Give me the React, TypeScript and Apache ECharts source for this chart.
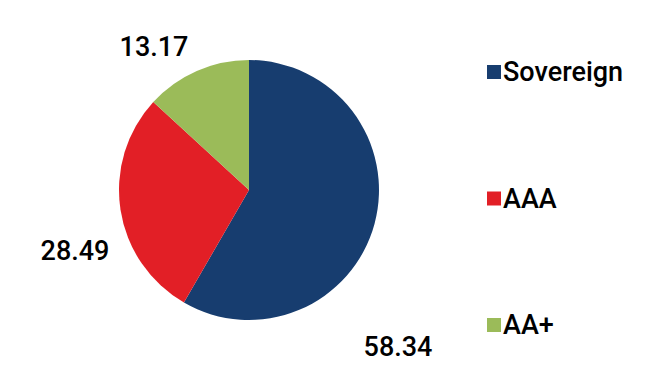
import React, { useEffect, useRef } from "react";
import * as echarts from "echarts";

const categories = ["Sovereign", "AAA", "AA+"];
const values = [58.34, 28.49, 13.17];
const colors = ["#173D6F", "#E21F26", "#9BBB59"];
const labelPositions: [number, number][] = [
  [398, 347],
  [75, 251],
  [154, 47],
];

export default function App() {
  const ref = useRef<HTMLDivElement>(null);
  useEffect(() => {
    if (!ref.current) return;
    const chart = echarts.init(ref.current, undefined, { renderer: "svg" });
    chart.setOption({
      animation: false,
      backgroundColor: "#ffffff",
      legend: {
        orient: "vertical",
        left: 482,
        top: 53.5,
        icon: "rect",
        itemWidth: 14,
        itemHeight: 14,
        itemGap: 99.5,
        textStyle: { fontFamily: "Roboto", fontSize: 27, fontWeight: 500, color: "#000000", padding: [0, 0, 0, -3] },
        data: categories,
      },
      series: [
        {
          type: "pie",
          center: [249, 190],
          radius: 130,
          startAngle: 90,
          clockwise: true,
          data: categories.map((c, i) => ({ name: c, value: values[i], itemStyle: { color: colors[i] } })),
          label: {
            show: true,
            formatter: (p: any) => p.value.toFixed(2),
            fontFamily: "Roboto",
            fontSize: 27,
            fontWeight: 500,
            color: "#000000",
            overflow: "none",
            width: 200,
          },
          labelLine: { show: false },
          labelLayout: (params: any) => {
            const pos = labelPositions[params.dataIndex];
            return { x: pos[0], y: pos[1], align: "center", verticalAlign: "middle" };
          },
          emphasis: { disabled: true },
        },
      ],
    });
    return () => chart.dispose();
  }, []);
  return <div ref={ref} style={{ position: "absolute", left: 0, top: 0, width: 649, height: 382 }} />;
}
